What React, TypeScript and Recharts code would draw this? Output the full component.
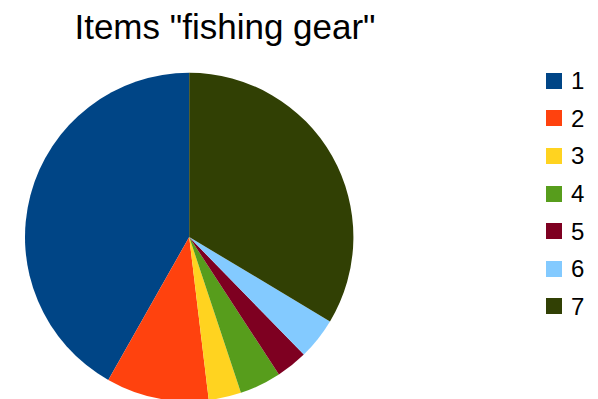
import React from 'react';
import { PieChart, Pie, Cell, Legend, Customized } from 'recharts';

const categories = ['1', '2', '3', '4', '5', '6', '7'];
const values = [41.8, 10.1, 3.2, 4.1, 3.1, 4.1, 33.6];
const colors = ['#004586', '#ff420e', '#ffd320', '#579d1c', '#7e0021', '#83caff', '#314004'];
const title = 'Items "fishing gear"';

const data = categories.map((name, i) => ({ name, value: values[i] }));

const FONT = '"Liberation Sans", Arial, sans-serif';

const LegendContent = () => (
  <div style={{ fontFamily: FONT, fontSize: 24, color: '#000' }}>
    {categories.map((c, i) => (
      <div key={c} style={{ display: 'flex', alignItems: 'center', height: 37.6 }}>
        <div style={{ width: 16, height: 16, background: colors[i], marginRight: 9 }} />
        <span style={{ lineHeight: '27px' }}>{c}</span>
      </div>
    ))}
  </div>
);

const Title = () => (
  <text x={225} y={39} textAnchor="middle" fontFamily={FONT} fontSize={35} fill="#000">
    {title}
  </text>
);

export default function App() {
  return (
    <div style={{ position: 'absolute', left: 0, top: 0, width: 598, height: 399, background: '#fff' }}>
      <PieChart width={598} height={399} margin={{ top: 0, right: 0, bottom: 0, left: 0 }}>
        <Customized component={Title} />
        <Pie
          data={data}
          dataKey="value"
          nameKey="name"
          cx={189.2}
          cy={237}
          outerRadius={164.2}
          startAngle={90}
          endAngle={450}
          stroke="none"
          isAnimationActive={false}
        >
          {data.map((d, i) => (
            <Cell key={d.name} fill={colors[i]} />
          ))}
        </Pie>
        <Legend
          content={<LegendContent />}
          wrapperStyle={{ position: 'absolute', left: 546, top: 62, width: 52 }}
        />
      </PieChart>
    </div>
  );
}
